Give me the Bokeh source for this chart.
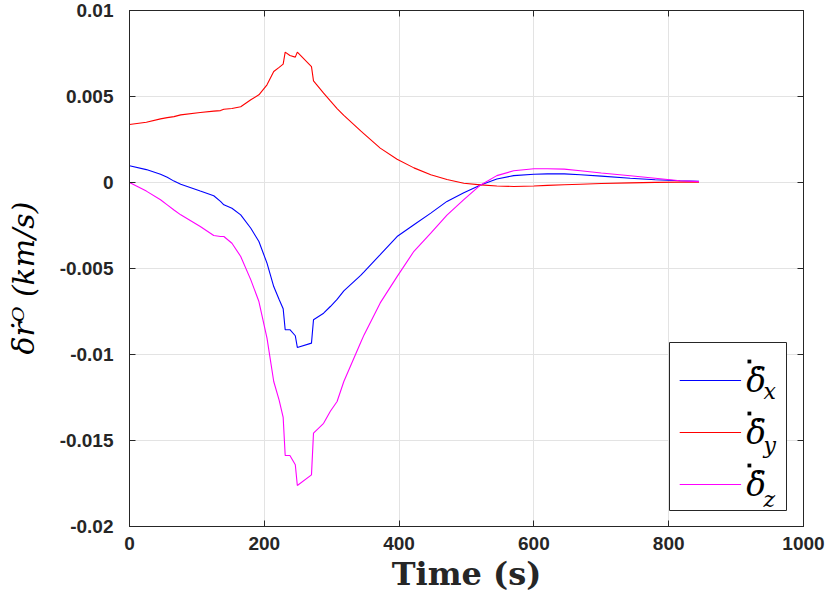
from bokeh.plotting import figure
from bokeh.models import (Range1d, FixedTicker, LinearAxis, Legend, LegendItem, Label,
                          BoxAnnotation)
from bokeh.embed import file_html
from bokeh.resources import INLINE

# ---- data ----
t = [0, 25, 46, 56, 66, 76, 105, 125, 135, 140, 152, 165, 180, 192, 204, 214, 222,
     228, 231, 238, 246, 249, 270, 273, 288, 298, 308, 318, 343, 348, 372, 397, 422,
     447, 471, 496, 521, 545, 570, 600, 620, 645, 669, 700, 743, 780, 817, 845]

dx = [0.00097, 0.00075, 0.00048, 0.00030, 0.00008, -0.0001, -0.0005, -0.00077, -0.0011,
      -0.0013, -0.0015, -0.00188, -0.00266, -0.00343, -0.00469, -0.00605, -0.0068,
      -0.00734, -0.00856, -0.00856, -0.00891, -0.00959, -0.00934, -0.00798, -0.0076,
      -0.00721, -0.0068, -0.0063, -0.0054, -0.0052, -0.0042, -0.00314, -0.00246,
      -0.00178, -0.0011, -0.0006, -0.00014, 0.0002, 0.0004, 0.00048, 0.0005, 0.0005,
      0.00045, 0.00037, 0.00025, 0.00016, 0.0001, 0.00007]

dy = [0.00337, 0.0035, 0.0037, 0.00377, 0.00383, 0.00393, 0.00407, 0.00415, 0.00418,
      0.00426, 0.0043, 0.0044, 0.00481, 0.0051, 0.00568, 0.00645, 0.00669, 0.00688,
      0.00758, 0.00738, 0.00729, 0.00758, 0.00674, 0.00591, 0.0052, 0.00474, 0.0043,
      0.0039, 0.003, 0.00283, 0.002, 0.00135, 0.00085, 0.00045, 0.00017, -0.00004,
      -0.00014, -0.0002, -0.00023, -0.0002, -0.00017, -0.00013, -0.0001, -0.00006,
      -0.00002, 0.00001, 0.00002, 0.00002]

dz = [0.0, -0.0005, -0.001, -0.0013, -0.0016, -0.00188, -0.00256, -0.00308, -0.00314,
      -0.00314, -0.00353, -0.0043, -0.00566, -0.00692, -0.00905, -0.01157, -0.01265,
      -0.01366, -0.01587, -0.01587, -0.01641, -0.01762, -0.017, -0.01457, -0.014,
      -0.0133, -0.01273, -0.01157, -0.0093, -0.00886, -0.007, -0.00547, -0.004,
      -0.00295, -0.0019, -0.001, -0.00014, 0.0004, 0.00068, 0.0008, 0.0008, 0.00078,
      0.00068, 0.00055, 0.00039, 0.00025, 0.0001, 0.00005]

series_names = ["\u03b4\u0307", "\u03b4\u0307 ", "\u03b4\u0307  "]
series_subs = ["x", "y", "z"]
series_colors = ["#0000ff", "#ff0000", "#ff00ff"]

xticks = [0, 200, 400, 600, 800, 1000]
yticks = [-0.02, -0.015, -0.01, -0.005, 0, 0.005, 0.01]
ytick_labels = ["-0.02", "-0.015", "-0.01", "-0.005", "0", "0.005", "0.01"]

x_label = "Time (s)"
y_label = "\u03b4r\u0307\u1d3c   (km/s)"

# ---- figure ----
DARK = "#262626"
GRID = "#e3e3e3"

p = figure(width=830, height=602, output_backend="svg", toolbar_location=None,
           x_range=Range1d(0, 1000), y_range=Range1d(-0.02, 0.01),
           min_border_left=129, min_border_right=27, min_border_top=10,
           min_border_bottom=76)
p.background_fill_color = "white"
p.border_fill_color = "white"
p.outline_line_color = DARK
p.outline_line_width = 1

renderers = []
for ys, c in zip([dx, dy, dz], series_colors):
    r = p.line(t, ys, line_color=c, line_width=1.1)
    renderers.append(r)

for ax in (p.xaxis[0], p.yaxis[0]):
    ax.axis_line_color = DARK
    ax.major_tick_line_color = DARK
    ax.major_tick_in = 6
    ax.major_tick_out = 0
    ax.minor_tick_line_color = None
    ax.major_label_text_font = "Liberation Sans"
    ax.major_label_text_font_style = "bold"
    ax.major_label_text_font_size = "19px"
    ax.major_label_text_color = DARK

p.xaxis[0].ticker = FixedTicker(ticks=xticks)
p.xaxis[0].major_label_standoff = 10
p.xaxis[0].axis_label = x_label
p.xaxis[0].axis_label_text_font = "DejaVu Serif"
p.xaxis[0].axis_label_text_font_style = "bold"
p.xaxis[0].axis_label_text_font_size = "32px"
p.xaxis[0].axis_label_text_color = DARK
p.xaxis[0].axis_label_standoff = 2

p.yaxis[0].ticker = FixedTicker(ticks=yticks)
p.yaxis[0].major_label_overrides = {v: s for v, s in zip(yticks, ytick_labels)}
p.yaxis[0].major_label_standoff = 16
p.yaxis[0].axis_label = y_label
p.yaxis[0].axis_label_text_font = "DejaVu Serif"
p.yaxis[0].axis_label_text_font_style = "italic"
p.yaxis[0].axis_label_text_font_size = "30px"
p.yaxis[0].axis_label_text_color = "black"
p.yaxis[0].axis_label_standoff = 16

# mirrored ticks on top and right (no labels)
top = LinearAxis(ticker=FixedTicker(ticks=xticks), major_tick_in=6, major_tick_out=0,
                 major_tick_line_color=DARK, minor_tick_line_color=None,
                 axis_line_color=DARK, major_label_text_font_size="1px",
                 major_label_text_color=None, major_label_standoff=0)
right = LinearAxis(ticker=FixedTicker(ticks=yticks), major_tick_in=6, major_tick_out=0,
                   major_tick_line_color=DARK, minor_tick_line_color=None,
                   axis_line_color=DARK, major_label_text_font_size="1px",
                   major_label_text_color=None, major_label_standoff=0)
p.add_layout(top, "above")
p.add_layout(right, "right")

p.xgrid.ticker = FixedTicker(ticks=xticks)
p.ygrid.ticker = FixedTicker(ticks=yticks)
p.xgrid.grid_line_color = GRID
p.ygrid.grid_line_color = GRID
p.xgrid.grid_line_width = 1
p.ygrid.grid_line_width = 1

# legend frame (white box with dark border) drawn under the legend entries
legend_box = BoxAnnotation(left=540, right=657, bottom=16, top=184,
                           left_units="screen", right_units="screen",
                           bottom_units="screen", top_units="screen",
                           fill_color="white", fill_alpha=1,
                           line_color=DARK, line_width=1, line_alpha=1)
p.add_layout(legend_box)

legend = Legend(items=[LegendItem(label=n, renderers=[r]) for n, r in zip(series_names, renderers)],
                location="bottom_right", margin=16, padding=6, spacing=0,
                glyph_width=62, glyph_height=52, label_height=52, label_width=36,
                label_standoff=5,
                label_text_font="DejaVu Serif", label_text_font_style="italic",
                label_text_font_size="33px", label_text_color="black",
                border_line_color=None,
                background_fill_color="white", background_fill_alpha=0)
p.add_layout(legend)

for i, s in enumerate(series_subs):
    p.add_layout(Label(x=634, y=135 - 54 * i, x_units="screen", y_units="screen",
                       text=s, text_font="DejaVu Serif", text_font_style="italic",
                       text_font_size="22px", text_color="black",
                       text_baseline="alphabetic"))
    # the time-derivative dot above each delta
    yc = 165 - 52 * i
    p.add_layout(BoxAnnotation(left=618.0, right=621.8, bottom=yc - 1.9, top=yc + 1.9,
                               left_units="screen", right_units="screen",
                               bottom_units="screen", top_units="screen",
                               fill_color="black", fill_alpha=1, line_color=None))

open("out.html", "w").write(file_html(p, INLINE))
